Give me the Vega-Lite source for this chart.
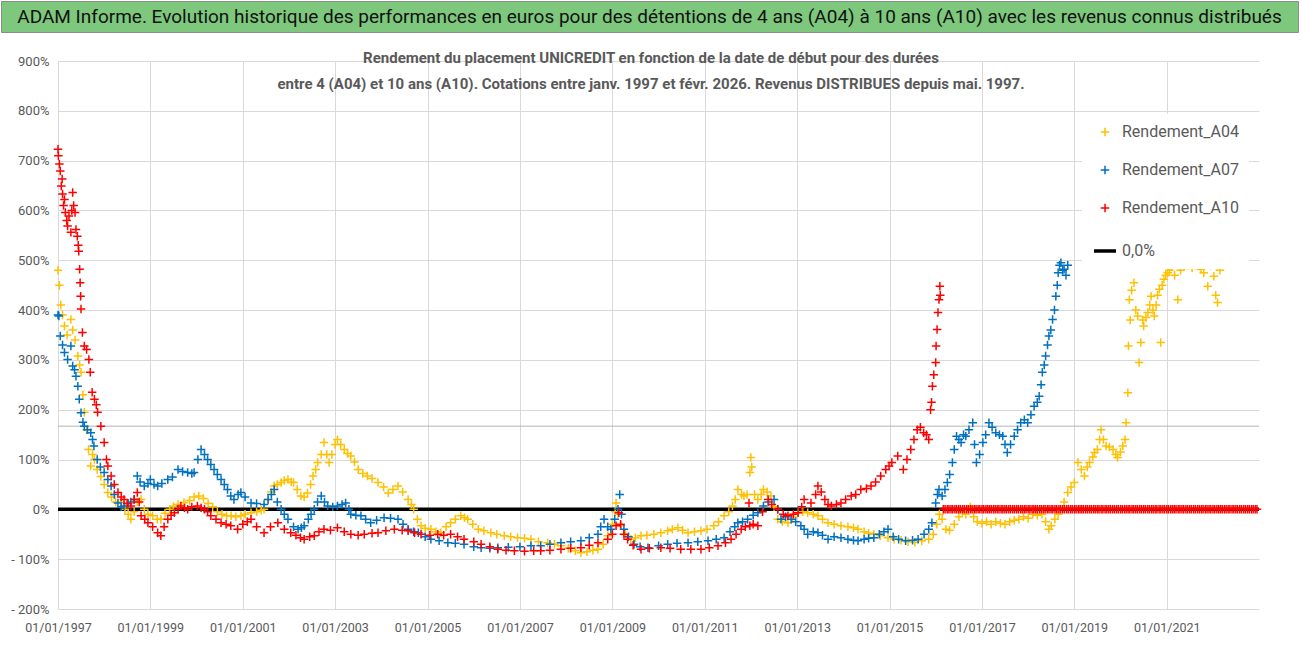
{
  "$schema": "https://vega.github.io/schema/vega-lite/v6.json",
  "padding": 0,
  "background": "white",
  "spacing": 18,
  "config": {
    "view": {"stroke": null},
    "font": "Roboto, sans-serif"
  },
  "vconcat": [
    {
      "width": 1297,
      "height": 31,
      "view": {"fill": "#7dc87d", "stroke": "#8c8c8c", "strokeWidth": 1},
      "data": {"values": [{"t": "ADAM Informe. Evolution historique des performances en euros pour des détentions de 4 ans (A04) à 10 ans (A10) avec les revenus connus distribués"}]},
      "mark": {"type": "text", "fontSize": 19, "color": "#111111", "font": "Roboto, sans-serif"},
      "encoding": {"text": {"field": "t"}}
    },
    {
      "width": 1258,
      "height": 548,
      "title": {
        "text": ["Rendement du placement UNICREDIT en fonction de la date de début pour des durées", "entre 4 (A04) et 10 ans (A10). Cotations entre janv. 1997 et févr. 2026. Revenus DISTRIBUES depuis mai. 1997."],
        "fontSize": 15,
        "fontWeight": "bold",
        "color": "#595959",
        "lineHeight": 26,
        "offset": -37,
        "dx": 21,
        "anchor": "middle",
        "frame": "group",
        "font": "Roboto, sans-serif"
      },
      "encoding": {
        "x": {
          "field": "d", "type": "temporal",
          "scale": {"type": "utc", "domain": [{"year": 1997, "month": 1, "date": 1, "utc": true}, {"year": 2022, "month": 12, "date": 31, "utc": true}], "range": [57, 1258]},
          "axis": {
            "title": null,
            "values": [{"year": 1997, "month": 1, "date": 1, "utc": true}, {"year": 1999, "month": 1, "date": 1, "utc": true}, {"year": 2001, "month": 1, "date": 1, "utc": true}, {"year": 2003, "month": 1, "date": 1, "utc": true}, {"year": 2005, "month": 1, "date": 1, "utc": true}, {"year": 2007, "month": 1, "date": 1, "utc": true}, {"year": 2009, "month": 1, "date": 1, "utc": true}, {"year": 2011, "month": 1, "date": 1, "utc": true}, {"year": 2013, "month": 1, "date": 1, "utc": true}, {"year": 2015, "month": 1, "date": 1, "utc": true}, {"year": 2017, "month": 1, "date": 1, "utc": true}, {"year": 2019, "month": 1, "date": 1, "utc": true}, {"year": 2021, "month": 1, "date": 1, "utc": true}],
            "format": "%d/%m/%Y",
            "labelFontSize": 12.5,
            "labelColor": "#595959",
            "labelPadding": 12,
            "labelFlush": false,
            "labelOverlap": false,
            "domain": false,
            "ticks": false,
            "grid": true,
            "gridColor": "#d9d9d9"
          }
        },
        "y": {
          "field": "v", "type": "quantitative",
          "scale": {"domain": [-200, 900], "nice": false, "zero": false},
          "axis": {
            "title": null,
            "offset": -57,
            "values": [-200, -100, 0, 100, 200, 300, 400, 500, 600, 700, 800, 900],
            "labelExpr": "datum.value < 0 ? '- ' + (-datum.value) + '%' : datum.value + '%'",
            "labelFontSize": 13,
            "labelColor": "#595959",
            "labelPadding": 9,
            "domain": false,
            "ticks": false,
            "grid": true,
            "gridColor": "#d9d9d9"
          }
        }
      },
      "layer": [
        {
          "data": {"values": [{"d": "1997-01-01", "d2": "2022-12-31", "v": 0}]},
          "mark": {"type": "rule", "color": "#000000", "strokeWidth": 3.5},
          "encoding": {"x2": {"field": "d2"}}
        },
        {
          "data": {"values": [{"d": "1997-01-01", "d2": "2022-12-31", "v": 167}]},
          "mark": {"type": "rule", "color": "#b4b4b4", "strokeWidth": 1},
          "encoding": {"x2": {"field": "d2"}}
        },
        {
          "data": {"values": [
{"d":"1997-01-01","s":"Rendement_A04","v":480},{"d":"1997-01-12","s":"Rendement_A04","v":450},{"d":"1997-01-23","s":"Rendement_A04","v":410},{"d":"1997-02-06","s":"Rendement_A04","v":390},{"d":"1997-02-21","s":"Rendement_A04","v":368},{"d":"1997-03-14","s":"Rendement_A04","v":350},{"d":"1997-04-13","s":"Rendement_A04","v":381},{"d":"1997-04-27","s":"Rendement_A04","v":360},{"d":"1997-05-16","s":"Rendement_A04","v":340},{"d":"1997-06-07","s":"Rendement_A04","v":308},{"d":"1997-06-21","s":"Rendement_A04","v":290},{"d":"1997-07-02","s":"Rendement_A04","v":275},{"d":"1997-07-17","s":"Rendement_A04","v":230},{"d":"1997-07-28","s":"Rendement_A04","v":195},{"d":"1997-08-15","s":"Rendement_A04","v":160},{"d":"1997-08-30","s":"Rendement_A04","v":120},{"d":"1997-09-17","s":"Rendement_A04","v":87},{"d":"1997-10-01","s":"Rendement_A04","v":110},{"d":"1997-10-16","s":"Rendement_A04","v":100},{"d":"1997-11-07","s":"Rendement_A04","v":80},{"d":"1997-12-06","s":"Rendement_A04","v":66},{"d":"1998-01-01","s":"Rendement_A04","v":50},{"d":"1998-01-30","s":"Rendement_A04","v":34},{"d":"1998-02-28","s":"Rendement_A04","v":25},{"d":"1998-04-02","s":"Rendement_A04","v":15},{"d":"1998-05-12","s":"Rendement_A04","v":14},{"d":"1998-06-14","s":"Rendement_A04","v":0},{"d":"1998-07-10","s":"Rendement_A04","v":-10},{"d":"1998-07-31","s":"Rendement_A04","v":-20},{"d":"1998-08-26","s":"Rendement_A04","v":-5},{"d":"1998-09-20","s":"Rendement_A04","v":15},{"d":"1998-10-20","s":"Rendement_A04","v":20},{"d":"1998-11-14","s":"Rendement_A04","v":0},{"d":"1998-12-13","s":"Rendement_A04","v":-10},{"d":"1999-01-19","s":"Rendement_A04","v":-13},{"d":"1999-02-25","s":"Rendement_A04","v":-20},{"d":"1999-03-25","s":"Rendement_A04","v":-20},{"d":"1999-04-27","s":"Rendement_A04","v":-8},{"d":"1999-06-03","s":"Rendement_A04","v":0},{"d":"1999-07-02","s":"Rendement_A04","v":6},{"d":"1999-08-08","s":"Rendement_A04","v":10},{"d":"1999-09-24","s":"Rendement_A04","v":14},{"d":"1999-11-07","s":"Rendement_A04","v":18},{"d":"1999-12-13","s":"Rendement_A04","v":25},{"d":"2000-01-19","s":"Rendement_A04","v":27},{"d":"2000-02-25","s":"Rendement_A04","v":22},{"d":"2000-04-02","s":"Rendement_A04","v":12},{"d":"2000-05-08","s":"Rendement_A04","v":5},{"d":"2000-06-14","s":"Rendement_A04","v":-5},{"d":"2000-07-20","s":"Rendement_A04","v":-10},{"d":"2000-08-26","s":"Rendement_A04","v":-13},{"d":"2000-10-01","s":"Rendement_A04","v":-13},{"d":"2000-11-07","s":"Rendement_A04","v":-15},{"d":"2000-12-17","s":"Rendement_A04","v":-13},{"d":"2001-01-19","s":"Rendement_A04","v":-10},{"d":"2001-03-07","s":"Rendement_A04","v":-7},{"d":"2001-04-20","s":"Rendement_A04","v":-5},{"d":"2001-05-27","s":"Rendement_A04","v":-2},{"d":"2001-06-18","s":"Rendement_A04","v":0},{"d":"2001-07-20","s":"Rendement_A04","v":20},{"d":"2001-08-15","s":"Rendement_A04","v":35},{"d":"2001-09-06","s":"Rendement_A04","v":47},{"d":"2001-10-01","s":"Rendement_A04","v":50},{"d":"2001-10-31","s":"Rendement_A04","v":54},{"d":"2001-11-25","s":"Rendement_A04","v":58},{"d":"2001-12-24","s":"Rendement_A04","v":60},{"d":"2002-01-19","s":"Rendement_A04","v":55},{"d":"2002-02-06","s":"Rendement_A04","v":54},{"d":"2002-03-07","s":"Rendement_A04","v":40},{"d":"2002-04-05","s":"Rendement_A04","v":27},{"d":"2002-05-01","s":"Rendement_A04","v":25},{"d":"2002-05-27","s":"Rendement_A04","v":33},{"d":"2002-06-21","s":"Rendement_A04","v":50},{"d":"2002-07-10","s":"Rendement_A04","v":67},{"d":"2002-07-31","s":"Rendement_A04","v":80},{"d":"2002-08-15","s":"Rendement_A04","v":94},{"d":"2002-09-13","s":"Rendement_A04","v":110},{"d":"2002-10-05","s":"Rendement_A04","v":134},{"d":"2002-10-27","s":"Rendement_A04","v":110},{"d":"2002-11-14","s":"Rendement_A04","v":94},{"d":"2002-12-06","s":"Rendement_A04","v":110},{"d":"2003-01-01","s":"Rendement_A04","v":130},{"d":"2003-01-19","s":"Rendement_A04","v":140},{"d":"2003-02-14","s":"Rendement_A04","v":130},{"d":"2003-03-14","s":"Rendement_A04","v":120},{"d":"2003-04-09","s":"Rendement_A04","v":112},{"d":"2003-05-05","s":"Rendement_A04","v":107},{"d":"2003-06-03","s":"Rendement_A04","v":95},{"d":"2003-07-02","s":"Rendement_A04","v":80},{"d":"2003-08-08","s":"Rendement_A04","v":72},{"d":"2003-09-13","s":"Rendement_A04","v":67},{"d":"2003-10-20","s":"Rendement_A04","v":62},{"d":"2003-12-06","s":"Rendement_A04","v":54},{"d":"2004-01-19","s":"Rendement_A04","v":45},{"d":"2004-02-25","s":"Rendement_A04","v":33},{"d":"2004-04-02","s":"Rendement_A04","v":40},{"d":"2004-05-12","s":"Rendement_A04","v":47},{"d":"2004-06-18","s":"Rendement_A04","v":35},{"d":"2004-07-31","s":"Rendement_A04","v":20},{"d":"2004-08-26","s":"Rendement_A04","v":10},{"d":"2004-09-13","s":"Rendement_A04","v":0},{"d":"2004-10-12","s":"Rendement_A04","v":-20},{"d":"2004-11-10","s":"Rendement_A04","v":-33},{"d":"2004-12-13","s":"Rendement_A04","v":-38},{"d":"2005-01-27","s":"Rendement_A04","v":-40},{"d":"2005-03-07","s":"Rendement_A04","v":-45},{"d":"2005-04-16","s":"Rendement_A04","v":-47},{"d":"2005-05-27","s":"Rendement_A04","v":-35},{"d":"2005-07-02","s":"Rendement_A04","v":-27},{"d":"2005-08-08","s":"Rendement_A04","v":-20},{"d":"2005-09-20","s":"Rendement_A04","v":-13},{"d":"2005-10-20","s":"Rendement_A04","v":-17},{"d":"2005-11-14","s":"Rendement_A04","v":-20},{"d":"2005-12-24","s":"Rendement_A04","v":-30},{"d":"2006-02-06","s":"Rendement_A04","v":-40},{"d":"2006-03-22","s":"Rendement_A04","v":-43},{"d":"2006-05-16","s":"Rendement_A04","v":-47},{"d":"2006-07-02","s":"Rendement_A04","v":-50},{"d":"2006-08-30","s":"Rendement_A04","v":-53},{"d":"2006-10-20","s":"Rendement_A04","v":-55},{"d":"2006-12-13","s":"Rendement_A04","v":-57},{"d":"2007-02-06","s":"Rendement_A04","v":-58},{"d":"2007-03-29","s":"Rendement_A04","v":-60},{"d":"2007-05-27","s":"Rendement_A04","v":-65},{"d":"2007-08-08","s":"Rendement_A04","v":-67},{"d":"2007-10-01","s":"Rendement_A04","v":-70},{"d":"2007-11-21","s":"Rendement_A04","v":-73},{"d":"2008-01-19","s":"Rendement_A04","v":-78},{"d":"2008-03-14","s":"Rendement_A04","v":-83},{"d":"2008-04-27","s":"Rendement_A04","v":-87},{"d":"2008-06-14","s":"Rendement_A04","v":-85},{"d":"2008-07-31","s":"Rendement_A04","v":-82},{"d":"2008-09-09","s":"Rendement_A04","v":-80},{"d":"2008-10-20","s":"Rendement_A04","v":-70},{"d":"2008-11-25","s":"Rendement_A04","v":-53},{"d":"2009-01-01","s":"Rendement_A04","v":-30},{"d":"2009-01-23","s":"Rendement_A04","v":-5},{"d":"2009-01-30","s":"Rendement_A04","v":13},{"d":"2009-02-14","s":"Rendement_A04","v":-10},{"d":"2009-03-11","s":"Rendement_A04","v":-33},{"d":"2009-04-13","s":"Rendement_A04","v":-50},{"d":"2009-05-27","s":"Rendement_A04","v":-60},{"d":"2009-07-02","s":"Rendement_A04","v":-57},{"d":"2009-08-15","s":"Rendement_A04","v":-53},{"d":"2009-10-01","s":"Rendement_A04","v":-52},{"d":"2009-11-25","s":"Rendement_A04","v":-50},{"d":"2010-01-19","s":"Rendement_A04","v":-47},{"d":"2010-03-14","s":"Rendement_A04","v":-43},{"d":"2010-04-20","s":"Rendement_A04","v":-40},{"d":"2010-06-03","s":"Rendement_A04","v":-37},{"d":"2010-07-10","s":"Rendement_A04","v":-42},{"d":"2010-08-22","s":"Rendement_A04","v":-47},{"d":"2010-10-12","s":"Rendement_A04","v":-45},{"d":"2010-12-02","s":"Rendement_A04","v":-43},{"d":"2011-01-19","s":"Rendement_A04","v":-40},{"d":"2011-03-14","s":"Rendement_A04","v":-33},{"d":"2011-04-20","s":"Rendement_A04","v":-25},{"d":"2011-06-03","s":"Rendement_A04","v":-13},{"d":"2011-07-10","s":"Rendement_A04","v":-5},{"d":"2011-08-08","s":"Rendement_A04","v":7},{"d":"2011-08-30","s":"Rendement_A04","v":20},{"d":"2011-09-20","s":"Rendement_A04","v":40},{"d":"2011-10-20","s":"Rendement_A04","v":30},{"d":"2011-11-07","s":"Rendement_A04","v":27},{"d":"2011-12-02","s":"Rendement_A04","v":30},{"d":"2011-12-24","s":"Rendement_A04","v":74},{"d":"2012-01-01","s":"Rendement_A04","v":104},{"d":"2012-01-08","s":"Rendement_A04","v":85},{"d":"2012-01-30","s":"Rendement_A04","v":30},{"d":"2012-02-25","s":"Rendement_A04","v":20},{"d":"2012-03-22","s":"Rendement_A04","v":30},{"d":"2012-04-09","s":"Rendement_A04","v":40},{"d":"2012-05-08","s":"Rendement_A04","v":35},{"d":"2012-06-07","s":"Rendement_A04","v":27},{"d":"2012-07-02","s":"Rendement_A04","v":5},{"d":"2012-07-31","s":"Rendement_A04","v":-20},{"d":"2012-09-06","s":"Rendement_A04","v":-25},{"d":"2012-10-20","s":"Rendement_A04","v":-27},{"d":"2012-11-25","s":"Rendement_A04","v":-15},{"d":"2013-01-08","s":"Rendement_A04","v":-7},{"d":"2013-02-14","s":"Rendement_A04","v":-5},{"d":"2013-03-25","s":"Rendement_A04","v":-7},{"d":"2013-05-08","s":"Rendement_A04","v":-10},{"d":"2013-06-14","s":"Rendement_A04","v":-13},{"d":"2013-07-20","s":"Rendement_A04","v":-20},{"d":"2013-09-02","s":"Rendement_A04","v":-27},{"d":"2013-10-20","s":"Rendement_A04","v":-30},{"d":"2013-12-13","s":"Rendement_A04","v":-33},{"d":"2014-02-06","s":"Rendement_A04","v":-35},{"d":"2014-03-22","s":"Rendement_A04","v":-37},{"d":"2014-04-27","s":"Rendement_A04","v":-40},{"d":"2014-06-14","s":"Rendement_A04","v":-45},{"d":"2014-07-20","s":"Rendement_A04","v":-48},{"d":"2014-08-30","s":"Rendement_A04","v":-50},{"d":"2014-10-20","s":"Rendement_A04","v":-53},{"d":"2014-12-20","s":"Rendement_A04","v":-57},{"d":"2015-02-06","s":"Rendement_A04","v":-60},{"d":"2015-04-02","s":"Rendement_A04","v":-62},{"d":"2015-05-27","s":"Rendement_A04","v":-65},{"d":"2015-07-20","s":"Rendement_A04","v":-66},{"d":"2015-09-13","s":"Rendement_A04","v":-63},{"d":"2015-11-07","s":"Rendement_A04","v":-60},{"d":"2015-12-13","s":"Rendement_A04","v":-50},{"d":"2016-01-08","s":"Rendement_A04","v":-30},{"d":"2016-01-30","s":"Rendement_A04","v":-10},{"d":"2016-02-21","s":"Rendement_A04","v":-20},{"d":"2016-03-22","s":"Rendement_A04","v":-40},{"d":"2016-04-20","s":"Rendement_A04","v":-42},{"d":"2016-05-27","s":"Rendement_A04","v":-30},{"d":"2016-07-02","s":"Rendement_A04","v":-15},{"d":"2016-07-31","s":"Rendement_A04","v":-5},{"d":"2016-08-26","s":"Rendement_A04","v":-10},{"d":"2016-10-01","s":"Rendement_A04","v":5},{"d":"2016-10-27","s":"Rendement_A04","v":-15},{"d":"2016-11-25","s":"Rendement_A04","v":-25},{"d":"2017-01-01","s":"Rendement_A04","v":-28},{"d":"2017-02-06","s":"Rendement_A04","v":-25},{"d":"2017-03-14","s":"Rendement_A04","v":-30},{"d":"2017-04-20","s":"Rendement_A04","v":-25},{"d":"2017-05-27","s":"Rendement_A04","v":-28},{"d":"2017-07-02","s":"Rendement_A04","v":-30},{"d":"2017-08-08","s":"Rendement_A04","v":-25},{"d":"2017-09-13","s":"Rendement_A04","v":-22},{"d":"2017-10-20","s":"Rendement_A04","v":-20},{"d":"2017-11-25","s":"Rendement_A04","v":-15},{"d":"2018-01-01","s":"Rendement_A04","v":-18},{"d":"2018-02-06","s":"Rendement_A04","v":-10},{"d":"2018-03-14","s":"Rendement_A04","v":-12},{"d":"2018-04-20","s":"Rendement_A04","v":-10},{"d":"2018-05-19","s":"Rendement_A04","v":-25},{"d":"2018-06-14","s":"Rendement_A04","v":-40},{"d":"2018-07-02","s":"Rendement_A04","v":-33},{"d":"2018-07-31","s":"Rendement_A04","v":-20},{"d":"2018-08-26","s":"Rendement_A04","v":-10},{"d":"2018-09-13","s":"Rendement_A04","v":0},{"d":"2018-10-12","s":"Rendement_A04","v":15},{"d":"2018-11-10","s":"Rendement_A04","v":34},{"d":"2018-12-06","s":"Rendement_A04","v":45},{"d":"2019-01-01","s":"Rendement_A04","v":54},{"d":"2019-01-30","s":"Rendement_A04","v":94},{"d":"2019-02-25","s":"Rendement_A04","v":80},{"d":"2019-03-22","s":"Rendement_A04","v":67},{"d":"2019-04-13","s":"Rendement_A04","v":85},{"d":"2019-05-01","s":"Rendement_A04","v":94},{"d":"2019-05-27","s":"Rendement_A04","v":105},{"d":"2019-06-10","s":"Rendement_A04","v":114},{"d":"2019-07-02","s":"Rendement_A04","v":120},{"d":"2019-07-20","s":"Rendement_A04","v":140},{"d":"2019-07-31","s":"Rendement_A04","v":160},{"d":"2019-08-19","s":"Rendement_A04","v":140},{"d":"2019-09-09","s":"Rendement_A04","v":127},{"d":"2019-10-05","s":"Rendement_A04","v":125},{"d":"2019-11-03","s":"Rendement_A04","v":120},{"d":"2019-11-25","s":"Rendement_A04","v":110},{"d":"2019-12-09","s":"Rendement_A04","v":104},{"d":"2020-01-01","s":"Rendement_A04","v":115},{"d":"2020-01-19","s":"Rendement_A04","v":127},{"d":"2020-02-06","s":"Rendement_A04","v":140},{"d":"2020-02-14","s":"Rendement_A04","v":174},{"d":"2020-02-28","s":"Rendement_A04","v":234},{"d":"2020-03-04","s":"Rendement_A04","v":328},{"d":"2020-03-11","s":"Rendement_A04","v":421},{"d":"2020-03-18","s":"Rendement_A04","v":380},{"d":"2020-03-29","s":"Rendement_A04","v":440},{"d":"2020-04-16","s":"Rendement_A04","v":455},{"d":"2020-05-01","s":"Rendement_A04","v":400},{"d":"2020-05-16","s":"Rendement_A04","v":388},{"d":"2020-05-27","s":"Rendement_A04","v":295},{"d":"2020-06-10","s":"Rendement_A04","v":335},{"d":"2020-06-25","s":"Rendement_A04","v":380},{"d":"2020-07-02","s":"Rendement_A04","v":368},{"d":"2020-07-20","s":"Rendement_A04","v":385},{"d":"2020-08-04","s":"Rendement_A04","v":395},{"d":"2020-08-19","s":"Rendement_A04","v":410},{"d":"2020-08-30","s":"Rendement_A04","v":428},{"d":"2020-09-13","s":"Rendement_A04","v":400},{"d":"2020-09-24","s":"Rendement_A04","v":388},{"d":"2020-10-09","s":"Rendement_A04","v":410},{"d":"2020-10-20","s":"Rendement_A04","v":430},{"d":"2020-11-03","s":"Rendement_A04","v":442},{"d":"2020-11-14","s":"Rendement_A04","v":335},{"d":"2020-11-25","s":"Rendement_A04","v":450},{"d":"2020-12-09","s":"Rendement_A04","v":462},{"d":"2020-12-24","s":"Rendement_A04","v":470},{"d":"2021-01-08","s":"Rendement_A04","v":475},{"d":"2021-01-23","s":"Rendement_A04","v":480},{"d":"2021-02-06","s":"Rendement_A04","v":488},{"d":"2021-03-04","s":"Rendement_A04","v":470},{"d":"2021-03-29","s":"Rendement_A04","v":421},{"d":"2021-04-20","s":"Rendement_A04","v":480},{"d":"2021-05-19","s":"Rendement_A04","v":488},{"d":"2021-06-14","s":"Rendement_A04","v":490},{"d":"2021-07-20","s":"Rendement_A04","v":485},{"d":"2021-08-15","s":"Rendement_A04","v":490},{"d":"2021-09-13","s":"Rendement_A04","v":488},{"d":"2021-09-28","s":"Rendement_A04","v":482},{"d":"2021-10-20","s":"Rendement_A04","v":475},{"d":"2021-11-21","s":"Rendement_A04","v":448},{"d":"2021-12-13","s":"Rendement_A04","v":490},{"d":"2022-01-08","s":"Rendement_A04","v":468},{"d":"2022-01-23","s":"Rendement_A04","v":430},{"d":"2022-02-06","s":"Rendement_A04","v":415},{"d":"2022-02-25","s":"Rendement_A04","v":480},
{"d":"1997-01-01","s":"Rendement_A07","v":390},{"d":"1997-01-08","s":"Rendement_A07","v":388},{"d":"1997-01-19","s":"Rendement_A07","v":348},{"d":"1997-02-06","s":"Rendement_A07","v":330},{"d":"1997-02-21","s":"Rendement_A07","v":315},{"d":"1997-03-18","s":"Rendement_A07","v":301},{"d":"1997-04-13","s":"Rendement_A07","v":328},{"d":"1997-04-27","s":"Rendement_A07","v":288},{"d":"1997-05-12","s":"Rendement_A07","v":280},{"d":"1997-05-23","s":"Rendement_A07","v":267},{"d":"1997-06-07","s":"Rendement_A07","v":247},{"d":"1997-06-18","s":"Rendement_A07","v":221},{"d":"1997-07-02","s":"Rendement_A07","v":194},{"d":"1997-07-17","s":"Rendement_A07","v":175},{"d":"1997-07-28","s":"Rendement_A07","v":167},{"d":"1997-08-22","s":"Rendement_A07","v":160},{"d":"1997-09-17","s":"Rendement_A07","v":154},{"d":"1997-10-01","s":"Rendement_A07","v":140},{"d":"1997-10-12","s":"Rendement_A07","v":127},{"d":"1997-11-07","s":"Rendement_A07","v":100},{"d":"1997-12-02","s":"Rendement_A07","v":85},{"d":"1998-01-01","s":"Rendement_A07","v":74},{"d":"1998-01-30","s":"Rendement_A07","v":60},{"d":"1998-02-25","s":"Rendement_A07","v":47},{"d":"1998-03-22","s":"Rendement_A07","v":30},{"d":"1998-04-20","s":"Rendement_A07","v":13},{"d":"1998-05-16","s":"Rendement_A07","v":5},{"d":"1998-06-07","s":"Rendement_A07","v":7},{"d":"1998-07-10","s":"Rendement_A07","v":12},{"d":"1998-07-31","s":"Rendement_A07","v":15},{"d":"1998-08-26","s":"Rendement_A07","v":20},{"d":"1998-09-20","s":"Rendement_A07","v":67},{"d":"1998-10-12","s":"Rendement_A07","v":55},{"d":"1998-11-14","s":"Rendement_A07","v":47},{"d":"1998-12-13","s":"Rendement_A07","v":52},{"d":"1999-01-01","s":"Rendement_A07","v":60},{"d":"1999-01-30","s":"Rendement_A07","v":50},{"d":"1999-02-28","s":"Rendement_A07","v":47},{"d":"1999-04-02","s":"Rendement_A07","v":52},{"d":"1999-05-19","s":"Rendement_A07","v":60},{"d":"1999-06-25","s":"Rendement_A07","v":65},{"d":"1999-08-08","s":"Rendement_A07","v":80},{"d":"1999-09-13","s":"Rendement_A07","v":76},{"d":"1999-10-23","s":"Rendement_A07","v":74},{"d":"1999-11-25","s":"Rendement_A07","v":72},{"d":"1999-12-13","s":"Rendement_A07","v":74},{"d":"2000-01-12","s":"Rendement_A07","v":100},{"d":"2000-02-06","s":"Rendement_A07","v":120},{"d":"2000-03-04","s":"Rendement_A07","v":110},{"d":"2000-03-29","s":"Rendement_A07","v":100},{"d":"2000-04-23","s":"Rendement_A07","v":90},{"d":"2000-05-19","s":"Rendement_A07","v":80},{"d":"2000-06-14","s":"Rendement_A07","v":70},{"d":"2000-07-13","s":"Rendement_A07","v":60},{"d":"2000-08-08","s":"Rendement_A07","v":50},{"d":"2000-09-02","s":"Rendement_A07","v":40},{"d":"2000-09-28","s":"Rendement_A07","v":27},{"d":"2000-10-23","s":"Rendement_A07","v":20},{"d":"2000-11-25","s":"Rendement_A07","v":30},{"d":"2000-12-17","s":"Rendement_A07","v":34},{"d":"2001-01-19","s":"Rendement_A07","v":25},{"d":"2001-03-07","s":"Rendement_A07","v":13},{"d":"2001-04-20","s":"Rendement_A07","v":12},{"d":"2001-06-18","s":"Rendement_A07","v":10},{"d":"2001-07-20","s":"Rendement_A07","v":20},{"d":"2001-08-15","s":"Rendement_A07","v":30},{"d":"2001-09-06","s":"Rendement_A07","v":40},{"d":"2001-10-01","s":"Rendement_A07","v":15},{"d":"2001-10-31","s":"Rendement_A07","v":0},{"d":"2001-11-25","s":"Rendement_A07","v":-10},{"d":"2001-12-24","s":"Rendement_A07","v":-20},{"d":"2002-02-06","s":"Rendement_A07","v":-35},{"d":"2002-03-14","s":"Rendement_A07","v":-40},{"d":"2002-04-09","s":"Rendement_A07","v":-37},{"d":"2002-05-01","s":"Rendement_A07","v":-33},{"d":"2002-06-03","s":"Rendement_A07","v":-20},{"d":"2002-06-25","s":"Rendement_A07","v":-10},{"d":"2002-07-20","s":"Rendement_A07","v":0},{"d":"2002-08-15","s":"Rendement_A07","v":15},{"d":"2002-09-13","s":"Rendement_A07","v":27},{"d":"2002-10-09","s":"Rendement_A07","v":15},{"d":"2002-11-03","s":"Rendement_A07","v":7},{"d":"2002-12-13","s":"Rendement_A07","v":5},{"d":"2003-01-19","s":"Rendement_A07","v":7},{"d":"2003-02-25","s":"Rendement_A07","v":10},{"d":"2003-03-25","s":"Rendement_A07","v":13},{"d":"2003-04-20","s":"Rendement_A07","v":0},{"d":"2003-05-05","s":"Rendement_A07","v":-10},{"d":"2003-06-14","s":"Rendement_A07","v":-12},{"d":"2003-07-24","s":"Rendement_A07","v":-13},{"d":"2003-08-30","s":"Rendement_A07","v":-20},{"d":"2003-10-09","s":"Rendement_A07","v":-27},{"d":"2003-11-25","s":"Rendement_A07","v":-22},{"d":"2004-01-23","s":"Rendement_A07","v":-17},{"d":"2004-03-14","s":"Rendement_A07","v":-18},{"d":"2004-05-12","s":"Rendement_A07","v":-20},{"d":"2004-06-21","s":"Rendement_A07","v":-30},{"d":"2004-07-31","s":"Rendement_A07","v":-40},{"d":"2004-09-13","s":"Rendement_A07","v":-45},{"d":"2004-10-20","s":"Rendement_A07","v":-47},{"d":"2004-12-13","s":"Rendement_A07","v":-55},{"d":"2005-01-27","s":"Rendement_A07","v":-60},{"d":"2005-04-02","s":"Rendement_A07","v":-63},{"d":"2005-06-10","s":"Rendement_A07","v":-67},{"d":"2005-08-08","s":"Rendement_A07","v":-68},{"d":"2005-10-16","s":"Rendement_A07","v":-70},{"d":"2006-01-01","s":"Rendement_A07","v":-75},{"d":"2006-02-28","s":"Rendement_A07","v":-77},{"d":"2006-05-08","s":"Rendement_A07","v":-78},{"d":"2006-07-10","s":"Rendement_A07","v":-77},{"d":"2006-10-01","s":"Rendement_A07","v":-76},{"d":"2007-01-01","s":"Rendement_A07","v":-75},{"d":"2007-03-29","s":"Rendement_A07","v":-73},{"d":"2007-06-14","s":"Rendement_A07","v":-73},{"d":"2007-08-26","s":"Rendement_A07","v":-70},{"d":"2007-11-21","s":"Rendement_A07","v":-67},{"d":"2008-02-06","s":"Rendement_A07","v":-65},{"d":"2008-04-27","s":"Rendement_A07","v":-63},{"d":"2008-07-02","s":"Rendement_A07","v":-57},{"d":"2008-09-09","s":"Rendement_A07","v":-50},{"d":"2008-10-01","s":"Rendement_A07","v":-35},{"d":"2008-10-27","s":"Rendement_A07","v":-20},{"d":"2008-11-25","s":"Rendement_A07","v":-35},{"d":"2008-12-20","s":"Rendement_A07","v":-40},{"d":"2009-01-19","s":"Rendement_A07","v":-20},{"d":"2009-02-14","s":"Rendement_A07","v":0},{"d":"2009-02-28","s":"Rendement_A07","v":30},{"d":"2009-03-14","s":"Rendement_A07","v":-10},{"d":"2009-04-02","s":"Rendement_A07","v":-40},{"d":"2009-05-08","s":"Rendement_A07","v":-55},{"d":"2009-06-21","s":"Rendement_A07","v":-70},{"d":"2009-08-08","s":"Rendement_A07","v":-75},{"d":"2009-10-09","s":"Rendement_A07","v":-77},{"d":"2010-01-01","s":"Rendement_A07","v":-73},{"d":"2010-03-14","s":"Rendement_A07","v":-70},{"d":"2010-05-27","s":"Rendement_A07","v":-68},{"d":"2010-08-22","s":"Rendement_A07","v":-67},{"d":"2010-11-07","s":"Rendement_A07","v":-65},{"d":"2011-01-27","s":"Rendement_A07","v":-63},{"d":"2011-04-02","s":"Rendement_A07","v":-60},{"d":"2011-06-03","s":"Rendement_A07","v":-57},{"d":"2011-07-20","s":"Rendement_A07","v":-45},{"d":"2011-08-26","s":"Rendement_A07","v":-35},{"d":"2011-09-20","s":"Rendement_A07","v":-27},{"d":"2011-10-27","s":"Rendement_A07","v":-25},{"d":"2011-12-06","s":"Rendement_A07","v":-20},{"d":"2012-01-19","s":"Rendement_A07","v":-12},{"d":"2012-02-25","s":"Rendement_A07","v":-7},{"d":"2012-04-09","s":"Rendement_A07","v":7},{"d":"2012-05-19","s":"Rendement_A07","v":15},{"d":"2012-07-02","s":"Rendement_A07","v":20},{"d":"2012-07-31","s":"Rendement_A07","v":0},{"d":"2012-08-26","s":"Rendement_A07","v":-20},{"d":"2012-10-01","s":"Rendement_A07","v":-15},{"d":"2012-11-14","s":"Rendement_A07","v":-20},{"d":"2012-12-20","s":"Rendement_A07","v":-25},{"d":"2013-01-30","s":"Rendement_A07","v":-33},{"d":"2013-02-25","s":"Rendement_A07","v":-40},{"d":"2013-03-25","s":"Rendement_A07","v":-50},{"d":"2013-05-08","s":"Rendement_A07","v":-45},{"d":"2013-06-14","s":"Rendement_A07","v":-47},{"d":"2013-07-20","s":"Rendement_A07","v":-52},{"d":"2013-09-02","s":"Rendement_A07","v":-60},{"d":"2013-10-20","s":"Rendement_A07","v":-55},{"d":"2013-12-13","s":"Rendement_A07","v":-57},{"d":"2014-02-06","s":"Rendement_A07","v":-60},{"d":"2014-03-22","s":"Rendement_A07","v":-62},{"d":"2014-04-27","s":"Rendement_A07","v":-63},{"d":"2014-06-14","s":"Rendement_A07","v":-60},{"d":"2014-07-20","s":"Rendement_A07","v":-58},{"d":"2014-08-30","s":"Rendement_A07","v":-57},{"d":"2014-10-12","s":"Rendement_A07","v":-50},{"d":"2014-11-18","s":"Rendement_A07","v":-45},{"d":"2014-12-20","s":"Rendement_A07","v":-40},{"d":"2015-01-30","s":"Rendement_A07","v":-55},{"d":"2015-03-14","s":"Rendement_A07","v":-60},{"d":"2015-05-08","s":"Rendement_A07","v":-63},{"d":"2015-07-02","s":"Rendement_A07","v":-62},{"d":"2015-08-15","s":"Rendement_A07","v":-60},{"d":"2015-10-01","s":"Rendement_A07","v":-50},{"d":"2015-11-07","s":"Rendement_A07","v":-40},{"d":"2015-12-02","s":"Rendement_A07","v":-27},{"d":"2016-01-01","s":"Rendement_A07","v":13},{"d":"2016-01-15","s":"Rendement_A07","v":30},{"d":"2016-01-27","s":"Rendement_A07","v":40},{"d":"2016-02-21","s":"Rendement_A07","v":27},{"d":"2016-03-14","s":"Rendement_A07","v":40},{"d":"2016-04-02","s":"Rendement_A07","v":54},{"d":"2016-04-20","s":"Rendement_A07","v":70},{"d":"2016-05-12","s":"Rendement_A07","v":94},{"d":"2016-05-27","s":"Rendement_A07","v":120},{"d":"2016-06-14","s":"Rendement_A07","v":147},{"d":"2016-07-02","s":"Rendement_A07","v":140},{"d":"2016-07-20","s":"Rendement_A07","v":134},{"d":"2016-08-08","s":"Rendement_A07","v":150},{"d":"2016-08-26","s":"Rendement_A07","v":147},{"d":"2016-09-20","s":"Rendement_A07","v":160},{"d":"2016-10-20","s":"Rendement_A07","v":174},{"d":"2016-11-03","s":"Rendement_A07","v":130},{"d":"2016-11-18","s":"Rendement_A07","v":94},{"d":"2016-12-13","s":"Rendement_A07","v":110},{"d":"2017-01-08","s":"Rendement_A07","v":134},{"d":"2017-01-30","s":"Rendement_A07","v":150},{"d":"2017-02-25","s":"Rendement_A07","v":174},{"d":"2017-03-22","s":"Rendement_A07","v":165},{"d":"2017-04-20","s":"Rendement_A07","v":154},{"d":"2017-05-19","s":"Rendement_A07","v":150},{"d":"2017-06-14","s":"Rendement_A07","v":147},{"d":"2017-07-02","s":"Rendement_A07","v":130},{"d":"2017-07-20","s":"Rendement_A07","v":114},{"d":"2017-08-15","s":"Rendement_A07","v":130},{"d":"2017-09-13","s":"Rendement_A07","v":147},{"d":"2017-10-09","s":"Rendement_A07","v":160},{"d":"2017-11-03","s":"Rendement_A07","v":174},{"d":"2017-12-02","s":"Rendement_A07","v":180},{"d":"2017-12-28","s":"Rendement_A07","v":174},{"d":"2018-01-23","s":"Rendement_A07","v":190},{"d":"2018-02-17","s":"Rendement_A07","v":207},{"d":"2018-03-14","s":"Rendement_A07","v":215},{"d":"2018-03-29","s":"Rendement_A07","v":227},{"d":"2018-04-13","s":"Rendement_A07","v":250},{"d":"2018-04-23","s":"Rendement_A07","v":275},{"d":"2018-05-08","s":"Rendement_A07","v":290},{"d":"2018-05-19","s":"Rendement_A07","v":308},{"d":"2018-06-03","s":"Rendement_A07","v":330},{"d":"2018-06-14","s":"Rendement_A07","v":348},{"d":"2018-06-29","s":"Rendement_A07","v":360},{"d":"2018-07-13","s":"Rendement_A07","v":381},{"d":"2018-07-28","s":"Rendement_A07","v":400},{"d":"2018-08-08","s":"Rendement_A07","v":428},{"d":"2018-08-19","s":"Rendement_A07","v":450},{"d":"2018-08-26","s":"Rendement_A07","v":475},{"d":"2018-09-06","s":"Rendement_A07","v":490},{"d":"2018-09-17","s":"Rendement_A07","v":495},{"d":"2018-10-01","s":"Rendement_A07","v":480},{"d":"2018-10-12","s":"Rendement_A07","v":482},{"d":"2018-10-27","s":"Rendement_A07","v":470},{"d":"2018-11-10","s":"Rendement_A07","v":490},
{"d":"1997-01-01","s":"Rendement_A10","v":723},{"d":"1997-01-04","s":"Rendement_A10","v":710},{"d":"1997-01-12","s":"Rendement_A10","v":693},{"d":"1997-01-19","s":"Rendement_A10","v":679},{"d":"1997-01-27","s":"Rendement_A10","v":649},{"d":"1997-02-03","s":"Rendement_A10","v":663},{"d":"1997-02-06","s":"Rendement_A10","v":633},{"d":"1997-02-14","s":"Rendement_A10","v":610},{"d":"1997-02-21","s":"Rendement_A10","v":622},{"d":"1997-02-28","s":"Rendement_A10","v":596},{"d":"1997-03-11","s":"Rendement_A10","v":580},{"d":"1997-03-18","s":"Rendement_A10","v":569},{"d":"1997-03-29","s":"Rendement_A10","v":589},{"d":"1997-04-13","s":"Rendement_A10","v":556},{"d":"1997-04-20","s":"Rendement_A10","v":600},{"d":"1997-04-27","s":"Rendement_A10","v":636},{"d":"1997-05-05","s":"Rendement_A10","v":610},{"d":"1997-05-16","s":"Rendement_A10","v":596},{"d":"1997-05-23","s":"Rendement_A10","v":562},{"d":"1997-06-03","s":"Rendement_A10","v":548},{"d":"1997-06-10","s":"Rendement_A10","v":530},{"d":"1997-06-14","s":"Rendement_A10","v":518},{"d":"1997-06-21","s":"Rendement_A10","v":482},{"d":"1997-06-25","s":"Rendement_A10","v":455},{"d":"1997-06-29","s":"Rendement_A10","v":428},{"d":"1997-07-02","s":"Rendement_A10","v":402},{"d":"1997-07-13","s":"Rendement_A10","v":355},{"d":"1997-07-28","s":"Rendement_A10","v":328},{"d":"1997-08-15","s":"Rendement_A10","v":321},{"d":"1997-09-02","s":"Rendement_A10","v":301},{"d":"1997-09-13","s":"Rendement_A10","v":275},{"d":"1997-09-28","s":"Rendement_A10","v":235},{"d":"1997-10-16","s":"Rendement_A10","v":221},{"d":"1997-10-31","s":"Rendement_A10","v":210},{"d":"1997-11-10","s":"Rendement_A10","v":195},{"d":"1997-12-06","s":"Rendement_A10","v":167},{"d":"1998-01-01","s":"Rendement_A10","v":134},{"d":"1998-01-19","s":"Rendement_A10","v":100},{"d":"1998-01-30","s":"Rendement_A10","v":87},{"d":"1998-02-25","s":"Rendement_A10","v":67},{"d":"1998-03-22","s":"Rendement_A10","v":50},{"d":"1998-04-20","s":"Rendement_A10","v":34},{"d":"1998-05-16","s":"Rendement_A10","v":25},{"d":"1998-06-07","s":"Rendement_A10","v":20},{"d":"1998-07-02","s":"Rendement_A10","v":12},{"d":"1998-07-31","s":"Rendement_A10","v":7},{"d":"1998-08-26","s":"Rendement_A10","v":20},{"d":"1998-09-20","s":"Rendement_A10","v":34},{"d":"1998-10-05","s":"Rendement_A10","v":15},{"d":"1998-10-20","s":"Rendement_A10","v":-13},{"d":"1998-11-18","s":"Rendement_A10","v":-20},{"d":"1998-12-13","s":"Rendement_A10","v":-27},{"d":"1999-01-19","s":"Rendement_A10","v":-35},{"d":"1999-02-28","s":"Rendement_A10","v":-47},{"d":"1999-03-25","s":"Rendement_A10","v":-53},{"d":"1999-04-20","s":"Rendement_A10","v":-35},{"d":"1999-05-19","s":"Rendement_A10","v":-20},{"d":"1999-06-14","s":"Rendement_A10","v":-12},{"d":"1999-07-10","s":"Rendement_A10","v":-7},{"d":"1999-08-08","s":"Rendement_A10","v":0},{"d":"1999-08-30","s":"Rendement_A10","v":7},{"d":"1999-09-28","s":"Rendement_A10","v":3},{"d":"1999-10-23","s":"Rendement_A10","v":0},{"d":"1999-11-25","s":"Rendement_A10","v":5},{"d":"2000-01-08","s":"Rendement_A10","v":7},{"d":"2000-02-06","s":"Rendement_A10","v":3},{"d":"2000-03-04","s":"Rendement_A10","v":0},{"d":"2000-03-29","s":"Rendement_A10","v":-5},{"d":"2000-04-23","s":"Rendement_A10","v":-13},{"d":"2000-06-03","s":"Rendement_A10","v":-20},{"d":"2000-07-13","s":"Rendement_A10","v":-27},{"d":"2000-08-22","s":"Rendement_A10","v":-30},{"d":"2000-09-28","s":"Rendement_A10","v":-33},{"d":"2000-11-21","s":"Rendement_A10","v":-40},{"d":"2001-01-01","s":"Rendement_A10","v":-30},{"d":"2001-02-06","s":"Rendement_A10","v":-25},{"d":"2001-03-07","s":"Rendement_A10","v":-20},{"d":"2001-04-20","s":"Rendement_A10","v":-35},{"d":"2001-06-18","s":"Rendement_A10","v":-47},{"d":"2001-08-08","s":"Rendement_A10","v":-35},{"d":"2001-10-05","s":"Rendement_A10","v":-27},{"d":"2001-11-25","s":"Rendement_A10","v":-40},{"d":"2002-01-15","s":"Rendement_A10","v":-47},{"d":"2002-02-25","s":"Rendement_A10","v":-52},{"d":"2002-04-02","s":"Rendement_A10","v":-57},{"d":"2002-05-01","s":"Rendement_A10","v":-60},{"d":"2002-06-14","s":"Rendement_A10","v":-55},{"d":"2002-07-20","s":"Rendement_A10","v":-53},{"d":"2002-08-26","s":"Rendement_A10","v":-45},{"d":"2002-10-05","s":"Rendement_A10","v":-40},{"d":"2002-11-25","s":"Rendement_A10","v":-42},{"d":"2003-01-19","s":"Rendement_A10","v":-37},{"d":"2003-03-14","s":"Rendement_A10","v":-45},{"d":"2003-05-05","s":"Rendement_A10","v":-50},{"d":"2003-07-02","s":"Rendement_A10","v":-52},{"d":"2003-08-19","s":"Rendement_A10","v":-50},{"d":"2003-10-20","s":"Rendement_A10","v":-48},{"d":"2003-12-06","s":"Rendement_A10","v":-47},{"d":"2004-02-06","s":"Rendement_A10","v":-43},{"d":"2004-04-13","s":"Rendement_A10","v":-40},{"d":"2004-06-14","s":"Rendement_A10","v":-42},{"d":"2004-07-31","s":"Rendement_A10","v":-43},{"d":"2004-09-20","s":"Rendement_A10","v":-47},{"d":"2004-11-10","s":"Rendement_A10","v":-50},{"d":"2005-01-19","s":"Rendement_A10","v":-52},{"d":"2005-03-22","s":"Rendement_A10","v":-50},{"d":"2005-05-08","s":"Rendement_A10","v":-52},{"d":"2005-07-02","s":"Rendement_A10","v":-50},{"d":"2005-08-26","s":"Rendement_A10","v":-55},{"d":"2005-10-16","s":"Rendement_A10","v":-60},{"d":"2006-01-01","s":"Rendement_A10","v":-65},{"d":"2006-02-28","s":"Rendement_A10","v":-70},{"d":"2006-05-08","s":"Rendement_A10","v":-75},{"d":"2006-07-10","s":"Rendement_A10","v":-80},{"d":"2006-09-13","s":"Rendement_A10","v":-82},{"d":"2006-11-18","s":"Rendement_A10","v":-83},{"d":"2007-02-06","s":"Rendement_A10","v":-84},{"d":"2007-04-20","s":"Rendement_A10","v":-83},{"d":"2007-06-14","s":"Rendement_A10","v":-83},{"d":"2007-08-26","s":"Rendement_A10","v":-82},{"d":"2007-11-21","s":"Rendement_A10","v":-80},{"d":"2008-02-06","s":"Rendement_A10","v":-78},{"d":"2008-04-27","s":"Rendement_A10","v":-77},{"d":"2008-07-02","s":"Rendement_A10","v":-72},{"d":"2008-09-09","s":"Rendement_A10","v":-67},{"d":"2008-11-25","s":"Rendement_A10","v":-60},{"d":"2009-01-01","s":"Rendement_A10","v":-50},{"d":"2009-01-30","s":"Rendement_A10","v":-33},{"d":"2009-02-21","s":"Rendement_A10","v":-7},{"d":"2009-03-07","s":"Rendement_A10","v":-30},{"d":"2009-04-02","s":"Rendement_A10","v":-50},{"d":"2009-05-01","s":"Rendement_A10","v":-60},{"d":"2009-06-14","s":"Rendement_A10","v":-72},{"d":"2009-08-15","s":"Rendement_A10","v":-80},{"d":"2009-10-20","s":"Rendement_A10","v":-78},{"d":"2010-01-19","s":"Rendement_A10","v":-77},{"d":"2010-04-02","s":"Rendement_A10","v":-78},{"d":"2010-06-25","s":"Rendement_A10","v":-80},{"d":"2010-09-13","s":"Rendement_A10","v":-80},{"d":"2010-12-02","s":"Rendement_A10","v":-80},{"d":"2011-02-06","s":"Rendement_A10","v":-77},{"d":"2011-04-16","s":"Rendement_A10","v":-73},{"d":"2011-06-14","s":"Rendement_A10","v":-67},{"d":"2011-07-28","s":"Rendement_A10","v":-60},{"d":"2011-09-06","s":"Rendement_A10","v":-50},{"d":"2011-10-16","s":"Rendement_A10","v":-40},{"d":"2011-11-18","s":"Rendement_A10","v":-35},{"d":"2011-12-17","s":"Rendement_A10","v":13},{"d":"2011-12-24","s":"Rendement_A10","v":-33},{"d":"2012-01-19","s":"Rendement_A10","v":-30},{"d":"2012-02-25","s":"Rendement_A10","v":-33},{"d":"2012-04-02","s":"Rendement_A10","v":-5},{"d":"2012-05-16","s":"Rendement_A10","v":20},{"d":"2012-06-14","s":"Rendement_A10","v":10},{"d":"2012-07-31","s":"Rendement_A10","v":0},{"d":"2012-09-13","s":"Rendement_A10","v":-10},{"d":"2012-10-20","s":"Rendement_A10","v":-13},{"d":"2012-12-02","s":"Rendement_A10","v":-10},{"d":"2013-01-08","s":"Rendement_A10","v":-7},{"d":"2013-02-06","s":"Rendement_A10","v":5},{"d":"2013-02-25","s":"Rendement_A10","v":20},{"d":"2013-04-20","s":"Rendement_A10","v":13},{"d":"2013-05-27","s":"Rendement_A10","v":30},{"d":"2013-06-14","s":"Rendement_A10","v":47},{"d":"2013-07-10","s":"Rendement_A10","v":35},{"d":"2013-08-08","s":"Rendement_A10","v":20},{"d":"2013-09-02","s":"Rendement_A10","v":10},{"d":"2013-09-28","s":"Rendement_A10","v":7},{"d":"2013-11-07","s":"Rendement_A10","v":10},{"d":"2013-12-13","s":"Rendement_A10","v":13},{"d":"2014-01-19","s":"Rendement_A10","v":20},{"d":"2014-03-04","s":"Rendement_A10","v":27},{"d":"2014-04-09","s":"Rendement_A10","v":30},{"d":"2014-05-19","s":"Rendement_A10","v":40},{"d":"2014-07-02","s":"Rendement_A10","v":42},{"d":"2014-08-08","s":"Rendement_A10","v":47},{"d":"2014-09-13","s":"Rendement_A10","v":55},{"d":"2014-10-23","s":"Rendement_A10","v":67},{"d":"2014-12-02","s":"Rendement_A10","v":80},{"d":"2014-12-28","s":"Rendement_A10","v":87},{"d":"2015-01-19","s":"Rendement_A10","v":94},{"d":"2015-03-07","s":"Rendement_A10","v":107},{"d":"2015-04-20","s":"Rendement_A10","v":80},{"d":"2015-05-19","s":"Rendement_A10","v":100},{"d":"2015-06-18","s":"Rendement_A10","v":120},{"d":"2015-07-13","s":"Rendement_A10","v":140},{"d":"2015-08-08","s":"Rendement_A10","v":160},{"d":"2015-09-02","s":"Rendement_A10","v":165},{"d":"2015-09-28","s":"Rendement_A10","v":154},{"d":"2015-10-20","s":"Rendement_A10","v":150},{"d":"2015-11-07","s":"Rendement_A10","v":140},{"d":"2015-11-21","s":"Rendement_A10","v":200},{"d":"2015-11-29","s":"Rendement_A10","v":215},{"d":"2015-12-06","s":"Rendement_A10","v":247},{"d":"2015-12-17","s":"Rendement_A10","v":270},{"d":"2016-01-01","s":"Rendement_A10","v":295},{"d":"2016-01-04","s":"Rendement_A10","v":328},{"d":"2016-01-12","s":"Rendement_A10","v":361},{"d":"2016-01-19","s":"Rendement_A10","v":395},{"d":"2016-01-27","s":"Rendement_A10","v":421},{"d":"2016-02-03","s":"Rendement_A10","v":448},{"d":"2016-02-06","s":"Rendement_A10","v":430},
{"d":"2016-03-01","s":"Rendement_A10","v":0},{"d":"2016-03-15","s":"Rendement_A10","v":0},{"d":"2016-04-01","s":"Rendement_A10","v":0},{"d":"2016-04-15","s":"Rendement_A10","v":0},{"d":"2016-05-01","s":"Rendement_A10","v":0},{"d":"2016-05-15","s":"Rendement_A10","v":0},{"d":"2016-06-01","s":"Rendement_A10","v":0},{"d":"2016-06-15","s":"Rendement_A10","v":0},{"d":"2016-07-01","s":"Rendement_A10","v":0},{"d":"2016-07-15","s":"Rendement_A10","v":0},{"d":"2016-08-01","s":"Rendement_A10","v":0},{"d":"2016-08-15","s":"Rendement_A10","v":0},{"d":"2016-09-01","s":"Rendement_A10","v":0},{"d":"2016-09-15","s":"Rendement_A10","v":0},{"d":"2016-10-01","s":"Rendement_A10","v":0},{"d":"2016-10-15","s":"Rendement_A10","v":0},{"d":"2016-11-01","s":"Rendement_A10","v":0},{"d":"2016-11-15","s":"Rendement_A10","v":0},{"d":"2016-12-01","s":"Rendement_A10","v":0},{"d":"2016-12-15","s":"Rendement_A10","v":0},
{"d":"2017-01-01","s":"Rendement_A10","v":0},{"d":"2017-01-15","s":"Rendement_A10","v":0},{"d":"2017-02-01","s":"Rendement_A10","v":0},{"d":"2017-02-15","s":"Rendement_A10","v":0},{"d":"2017-03-01","s":"Rendement_A10","v":0},{"d":"2017-03-15","s":"Rendement_A10","v":0},{"d":"2017-04-01","s":"Rendement_A10","v":0},{"d":"2017-04-15","s":"Rendement_A10","v":0},{"d":"2017-05-01","s":"Rendement_A10","v":0},{"d":"2017-05-15","s":"Rendement_A10","v":0},{"d":"2017-06-01","s":"Rendement_A10","v":0},{"d":"2017-06-15","s":"Rendement_A10","v":0},{"d":"2017-07-01","s":"Rendement_A10","v":0},{"d":"2017-07-15","s":"Rendement_A10","v":0},{"d":"2017-08-01","s":"Rendement_A10","v":0},{"d":"2017-08-15","s":"Rendement_A10","v":0},{"d":"2017-09-01","s":"Rendement_A10","v":0},{"d":"2017-09-15","s":"Rendement_A10","v":0},{"d":"2017-10-01","s":"Rendement_A10","v":0},{"d":"2017-10-15","s":"Rendement_A10","v":0},{"d":"2017-11-01","s":"Rendement_A10","v":0},{"d":"2017-11-15","s":"Rendement_A10","v":0},{"d":"2017-12-01","s":"Rendement_A10","v":0},{"d":"2017-12-15","s":"Rendement_A10","v":0},
{"d":"2018-01-01","s":"Rendement_A10","v":0},{"d":"2018-01-15","s":"Rendement_A10","v":0},{"d":"2018-02-01","s":"Rendement_A10","v":0},{"d":"2018-02-15","s":"Rendement_A10","v":0},{"d":"2018-03-01","s":"Rendement_A10","v":0},{"d":"2018-03-15","s":"Rendement_A10","v":0},{"d":"2018-04-01","s":"Rendement_A10","v":0},{"d":"2018-04-15","s":"Rendement_A10","v":0},{"d":"2018-05-01","s":"Rendement_A10","v":0},{"d":"2018-05-15","s":"Rendement_A10","v":0},{"d":"2018-06-01","s":"Rendement_A10","v":0},{"d":"2018-06-15","s":"Rendement_A10","v":0},{"d":"2018-07-01","s":"Rendement_A10","v":0},{"d":"2018-07-15","s":"Rendement_A10","v":0},{"d":"2018-08-01","s":"Rendement_A10","v":0},{"d":"2018-08-15","s":"Rendement_A10","v":0},{"d":"2018-09-01","s":"Rendement_A10","v":0},{"d":"2018-09-15","s":"Rendement_A10","v":0},{"d":"2018-10-01","s":"Rendement_A10","v":0},{"d":"2018-10-15","s":"Rendement_A10","v":0},{"d":"2018-11-01","s":"Rendement_A10","v":0},{"d":"2018-11-15","s":"Rendement_A10","v":0},{"d":"2018-12-01","s":"Rendement_A10","v":0},{"d":"2018-12-15","s":"Rendement_A10","v":0},
{"d":"2019-01-01","s":"Rendement_A10","v":0},{"d":"2019-01-15","s":"Rendement_A10","v":0},{"d":"2019-02-01","s":"Rendement_A10","v":0},{"d":"2019-02-15","s":"Rendement_A10","v":0},{"d":"2019-03-01","s":"Rendement_A10","v":0},{"d":"2019-03-15","s":"Rendement_A10","v":0},{"d":"2019-04-01","s":"Rendement_A10","v":0},{"d":"2019-04-15","s":"Rendement_A10","v":0},{"d":"2019-05-01","s":"Rendement_A10","v":0},{"d":"2019-05-15","s":"Rendement_A10","v":0},{"d":"2019-06-01","s":"Rendement_A10","v":0},{"d":"2019-06-15","s":"Rendement_A10","v":0},{"d":"2019-07-01","s":"Rendement_A10","v":0},{"d":"2019-07-15","s":"Rendement_A10","v":0},{"d":"2019-08-01","s":"Rendement_A10","v":0},{"d":"2019-08-15","s":"Rendement_A10","v":0},{"d":"2019-09-01","s":"Rendement_A10","v":0},{"d":"2019-09-15","s":"Rendement_A10","v":0},{"d":"2019-10-01","s":"Rendement_A10","v":0},{"d":"2019-10-15","s":"Rendement_A10","v":0},{"d":"2019-11-01","s":"Rendement_A10","v":0},{"d":"2019-11-15","s":"Rendement_A10","v":0},{"d":"2019-12-01","s":"Rendement_A10","v":0},{"d":"2019-12-15","s":"Rendement_A10","v":0},
{"d":"2020-01-01","s":"Rendement_A10","v":0},{"d":"2020-01-15","s":"Rendement_A10","v":0},{"d":"2020-02-01","s":"Rendement_A10","v":0},{"d":"2020-02-15","s":"Rendement_A10","v":0},{"d":"2020-03-01","s":"Rendement_A10","v":0},{"d":"2020-03-15","s":"Rendement_A10","v":0},{"d":"2020-04-01","s":"Rendement_A10","v":0},{"d":"2020-04-15","s":"Rendement_A10","v":0},{"d":"2020-05-01","s":"Rendement_A10","v":0},{"d":"2020-05-15","s":"Rendement_A10","v":0},{"d":"2020-06-01","s":"Rendement_A10","v":0},{"d":"2020-06-15","s":"Rendement_A10","v":0},{"d":"2020-07-01","s":"Rendement_A10","v":0},{"d":"2020-07-15","s":"Rendement_A10","v":0},{"d":"2020-08-01","s":"Rendement_A10","v":0},{"d":"2020-08-15","s":"Rendement_A10","v":0},{"d":"2020-09-01","s":"Rendement_A10","v":0},{"d":"2020-09-15","s":"Rendement_A10","v":0},{"d":"2020-10-01","s":"Rendement_A10","v":0},{"d":"2020-10-15","s":"Rendement_A10","v":0},{"d":"2020-11-01","s":"Rendement_A10","v":0},{"d":"2020-11-15","s":"Rendement_A10","v":0},{"d":"2020-12-01","s":"Rendement_A10","v":0},{"d":"2020-12-15","s":"Rendement_A10","v":0},
{"d":"2021-01-01","s":"Rendement_A10","v":0},{"d":"2021-01-15","s":"Rendement_A10","v":0},{"d":"2021-02-01","s":"Rendement_A10","v":0},{"d":"2021-02-15","s":"Rendement_A10","v":0},{"d":"2021-03-01","s":"Rendement_A10","v":0},{"d":"2021-03-15","s":"Rendement_A10","v":0},{"d":"2021-04-01","s":"Rendement_A10","v":0},{"d":"2021-04-15","s":"Rendement_A10","v":0},{"d":"2021-05-01","s":"Rendement_A10","v":0},{"d":"2021-05-15","s":"Rendement_A10","v":0},{"d":"2021-06-01","s":"Rendement_A10","v":0},{"d":"2021-06-15","s":"Rendement_A10","v":0},{"d":"2021-07-01","s":"Rendement_A10","v":0},{"d":"2021-07-15","s":"Rendement_A10","v":0},{"d":"2021-08-01","s":"Rendement_A10","v":0},{"d":"2021-08-15","s":"Rendement_A10","v":0},{"d":"2021-09-01","s":"Rendement_A10","v":0},{"d":"2021-09-15","s":"Rendement_A10","v":0},{"d":"2021-10-01","s":"Rendement_A10","v":0},{"d":"2021-10-15","s":"Rendement_A10","v":0},{"d":"2021-11-01","s":"Rendement_A10","v":0},{"d":"2021-11-15","s":"Rendement_A10","v":0},{"d":"2021-12-01","s":"Rendement_A10","v":0},{"d":"2021-12-15","s":"Rendement_A10","v":0},
{"d":"2022-01-01","s":"Rendement_A10","v":0},{"d":"2022-01-15","s":"Rendement_A10","v":0},{"d":"2022-02-01","s":"Rendement_A10","v":0},{"d":"2022-02-15","s":"Rendement_A10","v":0},{"d":"2022-03-01","s":"Rendement_A10","v":0},{"d":"2022-03-15","s":"Rendement_A10","v":0},{"d":"2022-04-01","s":"Rendement_A10","v":0},{"d":"2022-04-15","s":"Rendement_A10","v":0},{"d":"2022-05-01","s":"Rendement_A10","v":0},{"d":"2022-05-15","s":"Rendement_A10","v":0},{"d":"2022-06-01","s":"Rendement_A10","v":0},{"d":"2022-06-15","s":"Rendement_A10","v":0},{"d":"2022-07-01","s":"Rendement_A10","v":0},{"d":"2022-07-15","s":"Rendement_A10","v":0},{"d":"2022-08-01","s":"Rendement_A10","v":0},{"d":"2022-08-15","s":"Rendement_A10","v":0},{"d":"2022-09-01","s":"Rendement_A10","v":0},{"d":"2022-09-15","s":"Rendement_A10","v":0},{"d":"2022-10-01","s":"Rendement_A10","v":0},{"d":"2022-10-15","s":"Rendement_A10","v":0},{"d":"2022-11-01","s":"Rendement_A10","v":0},{"d":"2022-11-15","s":"Rendement_A10","v":0},{"d":"2022-12-01","s":"Rendement_A10","v":0},{"d":"2022-12-15","s":"Rendement_A10","v":0}
          ]},
          "mark": {"type": "point", "filled": false, "opacity": 1},
          "encoding": {
            "color": {
              "field": "s", "type": "nominal",
              "scale": {"domain": ["Rendement_A04", "Rendement_A07", "Rendement_A10", "0,0%"], "range": ["#FFC000", "#0070C0", "#FF0000", "#000000"]},
              "legend": {
                "title": null,
                "orient": "none",
                "legendX": 1081,
                "legendY": 113,
                "padding": 10,
                "fillColor": "white",
                "labelFontSize": 16,
                "labelColor": "#595959",
                "labelOffset": 4,
                "rowPadding": 22
              }
            },
            "shape": {
              "field": "s", "type": "nominal",
              "scale": {"domain": ["Rendement_A04", "Rendement_A07", "Rendement_A10", "0,0%"], "range": ["M-1,0L1,0M0,-1L0,1", "M-1,0L1,0M0,-1L0,1", "M-1,0L1,0M0,-1L0,1", "stroke"]}
            },
            "size": {
              "field": "s", "type": "nominal",
              "scale": {"type": "ordinal", "domain": ["Rendement_A04", "Rendement_A07", "Rendement_A10", "0,0%"], "range": [72, 72, 72, 484]}
            },
            "strokeWidth": {
              "field": "s", "type": "nominal",
              "scale": {"type": "ordinal", "domain": ["Rendement_A04", "Rendement_A07", "Rendement_A10", "0,0%"], "range": [1.5, 1.5, 1.5, 3.5]}
            }
          }
        }
      ]
    }
  ]
}
